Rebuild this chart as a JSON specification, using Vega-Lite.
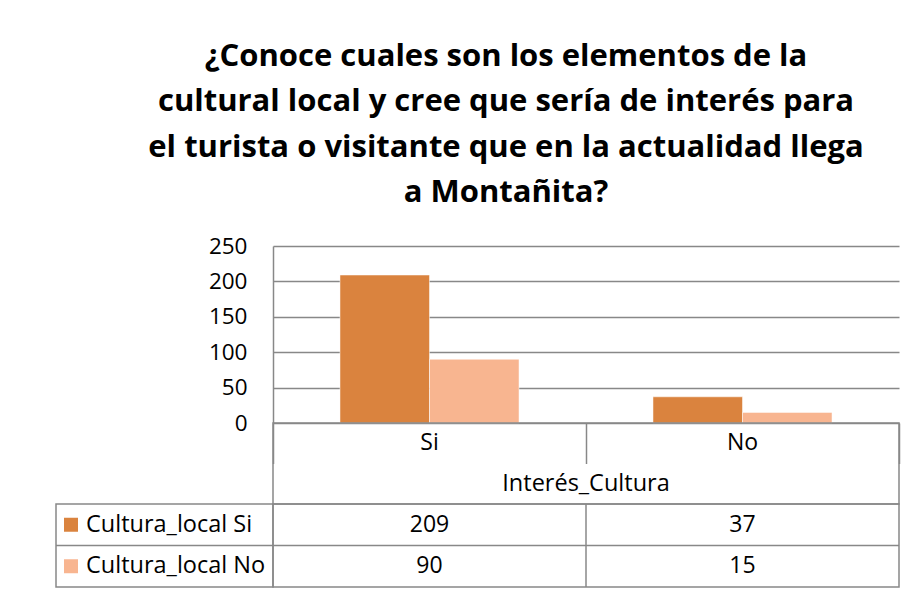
{
  "$schema": "https://vega.github.io/schema/vega-lite/v6.json",
  "padding": {"left": 54, "top": 40, "right": 14, "bottom": 8},
  "background": "white",
  "config": {
    "font": "Open Sans",
    "view": {"stroke": "#888888", "strokeWidth": 1.5},
    "concat": {"spacing": 0}
  },
  "title": {
    "text": ["¿Conoce cuales son los elementos de la", "cultural local y cree que sería de interés para", "el turista o visitante que en la actualidad llega", "a Montañita?"],
    "font": "Open Sans",
    "fontSize": 31,
    "fontWeight": "bold",
    "color": "#000000",
    "lineHeight": 45.5,
    "anchor": "middle",
    "frame": "group",
    "dx": 450,
    "offset": 26
  },
  "datasets": {
    "tabla": [
      {"interes": "Si", "serie": "Cultura_local Si", "valor": 209},
      {"interes": "No", "serie": "Cultura_local Si", "valor": 37},
      {"interes": "Si", "serie": "Cultura_local No", "valor": 90},
      {"interes": "No", "serie": "Cultura_local No", "valor": 15}
    ]
  },
  "columns": 2,
  "bounds": "flush",
  "spacing": 0,
  "resolve": {"scale": {"x": "independent", "y": "independent", "color": "shared"}},
  "concat": [
    {
      "width": 217, "height": 177,
      "view": {"stroke": null},
      "data": {"values": []},
      "mark": "text",
      "encoding": {}
    },
    {
      "width": 626, "height": 177,
      "view": {"stroke": null},
      "data": {"name": "tabla"},
      "mark": {"type": "bar", "stroke": "white", "strokeWidth": 0.5},
      "encoding": {
        "x": {"field": "interes", "type": "nominal", "sort": ["Si", "No"], "axis": null,
              "scale": {"paddingInner": 0.428, "paddingOuter": 0.214}},
        "xOffset": {"field": "serie", "type": "nominal", "sort": ["Cultura_local Si", "Cultura_local No"], "scale": {"paddingInner": 0, "paddingOuter": 0}},
        "y": {"field": "valor", "type": "quantitative",
              "scale": {"domain": [0, 250], "nice": false},
              "axis": {"values": [0, 50, 100, 150, 200, 250], "title": null, "grid": true, "gridColor": "#888888", "gridWidth": 1.5,
                       "domainColor": "#888888", "domainWidth": 1.5, "ticks": false, "labelPadding": 26,
                       "labelFontSize": 22.5, "labelColor": "#000000", "labelFont": "Open Sans"}},
        "color": {"field": "serie", "type": "nominal",
                  "scale": {"domain": ["Cultura_local Si", "Cultura_local No"], "range": ["#DA833E", "#F8B590"]},
                  "legend": null}
      }
    },
    {
      "width": 217, "height": 81,
      "view": {"stroke": null},
      "data": {"values": []},
      "mark": "text",
      "encoding": {}
    },
    {
      "width": 626, "height": 81,
      "layer": [
        {
          "data": {"values": [{"interes": "Si"}, {"interes": "No"}]},
          "mark": {"type": "text", "fontSize": 23, "color": "#000000", "font": "Open Sans"},
          "encoding": {
            "x": {"field": "interes", "type": "nominal", "sort": ["Si", "No"],
                  "scale": {"paddingInner": 0, "paddingOuter": 0},
                  "axis": {"orient": "top", "tickBand": "extent", "ticks": true, "tickSize": -40.5, "tickColor": "#888888", "tickWidth": 1.5,
                           "labels": false, "domain": false, "title": null, "grid": false}},
            "y": {"datum": "cat", "type": "nominal", "scale": {"domain": ["cat", "title"], "paddingInner": 0, "paddingOuter": 0}, "axis": null},
            "text": {"field": "interes"}
          }
        },
        {
          "data": {"values": [{"eje": "Interés_Cultura"}]},
          "mark": {"type": "text", "fontSize": 23.5, "color": "#000000", "font": "Open Sans"},
          "encoding": {
            "y": {"datum": "title", "type": "nominal"},
            "text": {"field": "eje"}
          }
        }
      ]
    },
    {
      "width": 217, "height": 83,
      "data": {"name": "tabla"},
      "transform": [{"filter": "datum.interes == 'Si'"}],
      "encoding": {
        "y": {"field": "serie", "type": "nominal", "sort": ["Cultura_local Si", "Cultura_local No"],
              "scale": {"paddingInner": 0, "paddingOuter": 0}, "axis": null}
      },
      "layer": [
        {
          "transform": [{"filter": "datum.serie == 'Cultura_local No'"}],
          "mark": {"type": "rule", "color": "#888888", "strokeWidth": 1.5},
          "encoding": {"y": {"field": "serie", "type": "nominal", "bandPosition": 0}}
        },
        {
          "mark": {"type": "point", "shape": "square", "filled": true, "size": 196, "opacity": 1, "xOffset": -93.5},
          "encoding": {
            "color": {"field": "serie", "type": "nominal", "legend": null}
          }
        },
        {
          "mark": {"type": "text", "align": "left", "dx": -78.5, "fontSize": 23.5, "color": "#000000", "font": "Open Sans"},
          "encoding": {"text": {"field": "serie"}}
        }
      ]
    },
    {
      "width": 626, "height": 83,
      "data": {"name": "tabla"},
      "encoding": {
        "x": {"field": "interes", "type": "nominal", "sort": ["Si", "No"], "scale": {"paddingInner": 0, "paddingOuter": 0}, "axis": null},
        "y": {"field": "serie", "type": "nominal", "sort": ["Cultura_local Si", "Cultura_local No"],
              "scale": {"paddingInner": 0, "paddingOuter": 0}, "axis": null}
      },
      "layer": [
        {
          "transform": [{"filter": "datum.serie == 'Cultura_local No' && datum.interes == 'Si'"}],
          "mark": {"type": "rule", "color": "#888888", "strokeWidth": 1.5},
          "encoding": {"x": null, "y": {"field": "serie", "type": "nominal", "bandPosition": 0}}
        },
        {
          "transform": [{"filter": "datum.serie == 'Cultura_local Si' && datum.interes == 'No'"}],
          "mark": {"type": "rule", "color": "#888888", "strokeWidth": 1.5},
          "encoding": {"y": null, "x": {"field": "interes", "type": "nominal", "bandPosition": 0}}
        },
        {
          "mark": {"type": "text", "fontSize": 23, "color": "#000000", "font": "Open Sans"},
          "encoding": {"text": {"field": "valor", "type": "quantitative"}}
        }
      ]
    }
  ]
}
